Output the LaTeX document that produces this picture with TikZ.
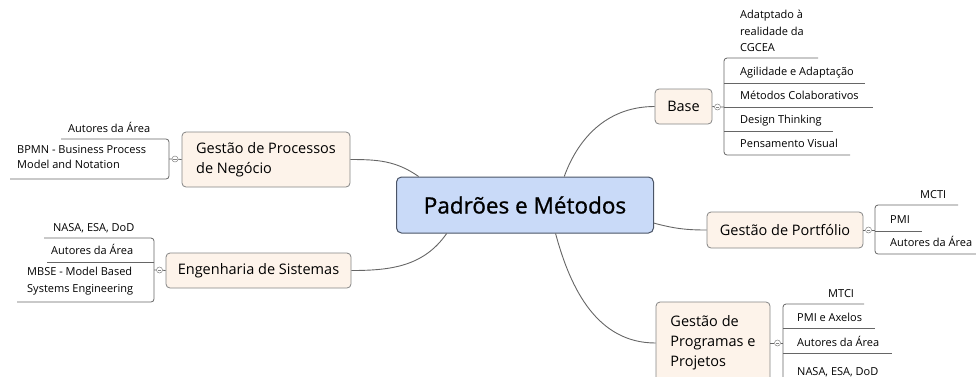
\documentclass[tikz,border=0pt]{standalone}
\usepackage{fontspec}
\setmainfont{Open Sans}
\newfontfamily\mainfamily{Open Sans}[FakeBold=0.9]
\definecolor{topicfill}{HTML}{FDF3EA}
\definecolor{topicline}{HTML}{858585}
\definecolor{centralfill}{HTML}{C9DAF8}
\definecolor{centralline}{HTML}{4A5466}
\definecolor{branchgray}{HTML}{666666}
\begin{document}
\begin{tikzpicture}[x=1pt,y=-1pt,
    central/.style={draw=centralline,fill=centralfill,rounded corners=5pt,line width=1pt,
      minimum width=257pt,minimum height=56pt,inner sep=0pt,font=\mainfamily\fontsize{22.5}{26}\selectfont},
    topic/.style={draw=topicline,fill=topicfill,rounded corners=4pt,line width=0.8pt,
      inner sep=0pt,align=left,font=\fontsize{14.5}{20}\selectfont},
    leaf/.style={anchor=base west,inner sep=0pt,align=left,font=\fontsize{11}{16.5}\selectfont},
    branch/.style={draw=branchgray,line width=0.9pt},
    bracket/.style={draw=branchgray,line width=0.8pt,rounded corners=3pt},
    fold/.style={circle,draw=topicline,fill=white,line width=0.5pt,inner sep=0pt,minimum size=6pt,
      path picture={\draw[topicline,line width=0.4pt]
        ([xshift=-1.6pt]path picture bounding box.center) -- ([xshift=1.6pt]path picture bounding box.center);}}]
  \useasboundingbox (0,0) rectangle (976,376);

  % main topic and branches
  \node[central] (pm) at (525,205) {Padrões e Métodos};
  \node[topic,minimum width=57pt,minimum height=35pt] (base) at (683.5,106.5) {Base};
  \node[topic,minimum width=156pt,minimum height=36pt] (port) at (785,230) {Gestão de Portfólio};
  \node[topic,minimum width=114pt,minimum height=82pt] (prog) at (713,343) {Gestão de\\Programas e\\Projetos};
  \node[topic,minimum width=168pt,minimum height=55pt] (proc) at (266,159.5) {Gestão de Processos\\de Negócio};
  \node[topic,minimum width=185pt,minimum height=35pt] (eng) at (258.5,270.5) {Engenharia de Sistemas};

  \begin{scope}[branch]
    \draw (pm.36) to[out=70,in=180] (base.west);
    \draw (pm.-8) to[out=-15,in=180] (port.west);
    \draw (pm.-43) to[out=-75,in=180] (prog.west);
    \draw (proc.east) to[out=0,in=145] (pm.165);
    \draw (eng.east) to[out=0,in=-125] (pm.200);
  \end{scope}

  % Base
  \node[fold] (basefold) at (717.5,107) {};
  \draw[bracket] (818,58) -- (724,58) -- (724,155) -- (850,155);
  \draw[bracket] (724,83) -- (865,83);
  \draw[bracket] (724,107) -- (873,107);
  \draw[bracket] (724,131) -- (833,131);
  \draw[bracket] (base.east) -- (basefold) -- (724,107);
  \node[leaf,anchor=north west] (b0) at (740,10) {Adatptado à\\realidade da\\CGCEA};
  \node[leaf] (b1) at (740,75) {Agilidade e Adaptação};
  \node[leaf] (b2) at (740,99.5) {Métodos Colaborativos};
  \node[leaf] (b3) at (740,123) {Design Thinking};
  \node[leaf] (b4) at (740,147.5) {Pensamento Visual};

  % Gestao de Portfolio
  \node[fold] (portfold) at (868.5,230) {};
  \draw[bracket] (958,205) -- (875,205) -- (875,254) -- (980,254);
  \draw[bracket] (875,231) -- (922,231);
  \draw[bracket] (port.east) -- (portfold) -- (875,230);
  \node[leaf] (p1) at (920,198) {MCTI};
  \node[leaf] (p2) at (890,223) {PMI};
  \node[leaf] (p3) at (890,246) {Autores da Área};

  % Gestao de Programas e Projetos
  \node[fold] (progfold) at (777.5,343) {};
  \draw[bracket] (864,304) -- (783,304) -- (783,380) -- (900,380);
  \draw[bracket] (783,328) -- (875,328);
  \draw[bracket] (783,353) -- (892,353);
  \draw[bracket] (prog.east) -- (progfold) -- (783,343);
  \node[leaf] (g1) at (828,297) {MTCI};
  \node[leaf] (g2) at (797,321) {PMI e Axelos};
  \node[leaf] (g3) at (797,346) {Autores da Área};
  \node[leaf] (g4) at (797,375) {NASA, ESA, DoD};

  % Gestao de Processos de Negocio
  \node[fold] (procfold) at (175,159) {};
  \draw[bracket] (61,139) -- (169,139) -- (169,179) -- (10,179);
  \draw[bracket] (proc.west) -- (procfold) -- (169,159);
  \node[leaf] (n1) at (68,132) {Autores da Área};
  \node[leaf,anchor=north west,font=\fontsize{11}{15}\selectfont] (n2) at (17,145) {BPMN - Business Process\\Model and Notation};

  % Engenharia de Sistemas
  \node[fold] (engfold) at (159.5,270) {};
  \draw[bracket] (44,238) -- (154,238) -- (154,302) -- (17,302);
  \draw[bracket] (154,262) -- (47,262);
  \draw[bracket] (eng.west) -- (engfold) -- (154,270);
  \node[leaf] (e1) at (53,231) {NASA, ESA, DoD};
  \node[leaf] (e2) at (51,254) {Autores da Área};
  \node[leaf,anchor=north west,font=\fontsize{11}{17}\selectfont] (e3) at (27,267) {MBSE - Model Based\\Systems Engineering};
\end{tikzpicture}
\end{document}
